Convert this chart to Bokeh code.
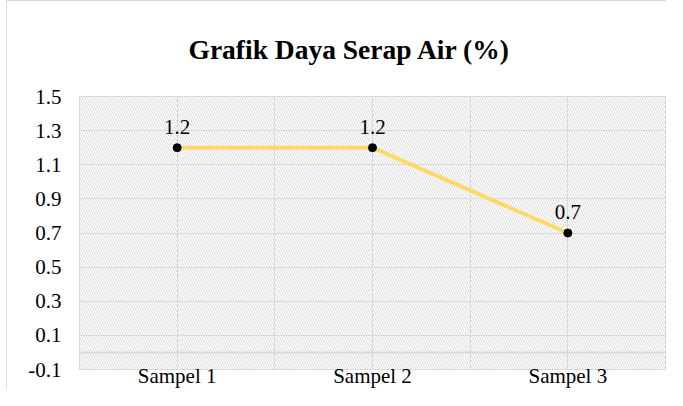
from bokeh.plotting import figure
from bokeh.models import FixedTicker, Span, ColumnDataSource, Range1d
from bokeh.embed import file_html
from bokeh.resources import INLINE

title_text = "Grafik Daya Serap Air (%)"
categories = ["Sampel 1", "Sampel 2", "Sampel 3"]
values = [1.2, 1.2, 0.7]
y_ticks = [-0.1, 0.1, 0.3, 0.5, 0.7, 0.9, 1.1, 1.3, 1.5]
y_tick_labels = ["-0.1", "0.1", "0.3", "0.5", "0.7", "0.9", "1.1", "1.3", "1.5"]

FONT = "'Liberation Serif', serif"
GRID = "#d9d9d9"

xs = [i + 0.5 for i in range(len(categories))]
src = ColumnDataSource(dict(x=xs, y=values, lbl=[f"{v:.1f}" for v in values]))

p = figure(width=660, height=389, output_backend="svg", toolbar_location=None,
           x_range=Range1d(0, len(categories)), y_range=Range1d(y_ticks[0], y_ticks[-1]),
           min_border_left=72, min_border_right=2, min_border_top=91, min_border_bottom=12)
p.styles = {"border-left": "1px solid #d9d9d9", "border-top": "1px solid #d9d9d9",
            "margin-left": "6px"}

p.title.text = title_text
p.title.text_font = FONT
p.title.text_font_size = "27.5px"
p.title.text_font_style = "bold"
p.title.text_color = "black"
p.title.align = "left"
p.title.offset = 109
p.title.vertical_align = "middle"
p.title.standoff = 62

# hatched plot area
p.quad(left=0, right=len(categories), bottom=y_ticks[0], top=y_ticks[-1],
       fill_alpha=0, line_alpha=0, hatch_pattern="\\", hatch_color=GRID,
       hatch_scale=5, hatch_weight=1)

p.outline_line_color = GRID

p.xgrid.ticker = FixedTicker(ticks=[i * 0.5 for i in range(2 * len(categories) + 1)])
p.xgrid.grid_line_color = GRID
p.ygrid.ticker = FixedTicker(ticks=y_ticks)
p.ygrid.grid_line_color = GRID

p.add_layout(Span(location=0, dimension="width", line_color=GRID, line_width=2))

p.line("x", "y", source=src, line_color="#FFD966", line_width=4)
p.scatter("x", "y", source=src, size=8, fill_color="black", line_color="black")
p.text("x", "y", text="lbl", source=src, text_align="center", text_baseline="bottom",
       y_offset=-14, text_font={"value": FONT}, text_font_size={"value": "21px"}, text_color="black")

for ax in (p.xaxis[0], p.yaxis[0]):
    ax.axis_line_color = None
    ax.major_tick_line_color = None
    ax.minor_tick_line_color = None
    ax.major_label_text_font = FONT
    ax.major_label_text_color = "black"

p.yaxis.ticker = FixedTicker(ticks=y_ticks)
p.yaxis.major_label_overrides = {t: l for t, l in zip(y_ticks, y_tick_labels)}
p.yaxis.major_label_text_font_size = "21px"
p.yaxis.major_label_standoff = 12

p.xaxis.ticker = FixedTicker(ticks=xs)
p.xaxis.major_label_overrides = {x: c for x, c in zip(xs, categories)}
p.xaxis.major_label_text_font_size = "21px"
p.xaxis.major_label_standoff = -12

open("out.html", "w").write(file_html(p, INLINE))
